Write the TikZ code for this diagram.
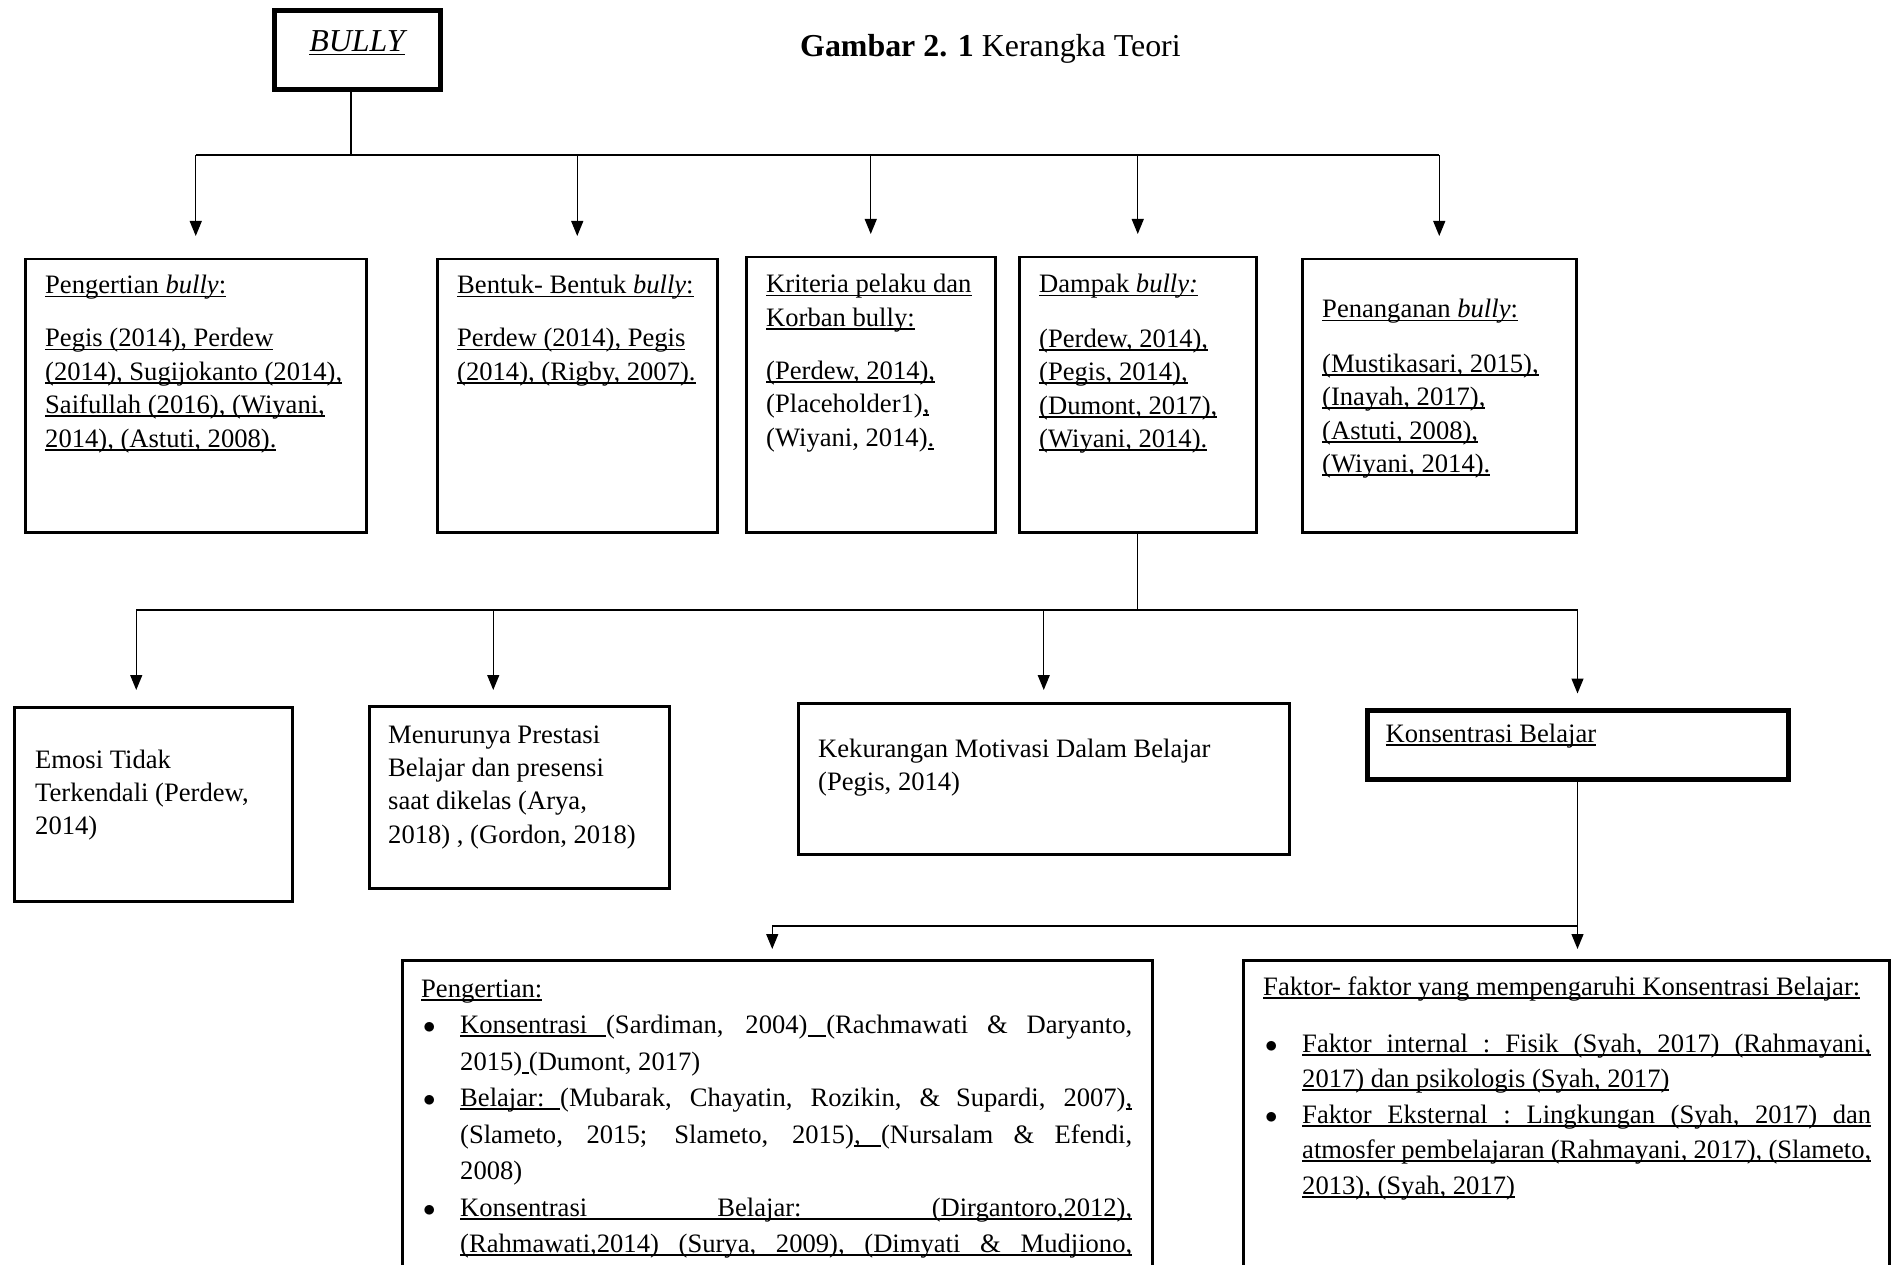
\documentclass[tikz,border=0pt]{standalone}
\usepackage{fontspec}
\setmainfont{Liberation Serif}
\usetikzlibrary{arrows.meta}
\hbadness=10000
\hfuzz=20pt

% garis bawah per kata, spasi ikut bergaris dan bisa melar
\newsavebox{\katabox}
\makeatletter
\newcommand{\kata}[1]{\leavevmode\sbox\katabox{#1}\rlap{\rule[-3.5pt]{\wd\katabox}{1.8pt}}\usebox\katabox}
\newcommand{\spasi}{\leavevmode\leaders\hrule height -1.7pt depth 3.5pt\hskip\fontdimen2\font plus\fontdimen3\font minus\fontdimen4\font}
\newcommand{\gb}[1]{\gb@a#1 \@nil}
\def\gb@a#1 #2\@nil{\kata{#1}\ifx\relax#2\relax\else\spasi\gb@a#2\@nil\fi}
\makeatother
% butir dengan indentasi gantung
\newcommand{\titik}{\par\hangindent=39pt\hangafter=1\noindent\makebox[39pt][l]{\hspace{2pt}$\bullet$}}

\tikzset{
  kotak/.style={draw=black, line width=2.5pt, anchor=north west, inner sep=0pt},
  kotaktebal/.style={kotak, line width=5pt},
  teks/.style={anchor=base west, inner sep=0pt, font=\fontsize{26.6}{33.4}\selectfont},
  garis/.style={line width=1.3pt},
  >={Triangle[length=15pt,width=12pt]}
}

\begin{document}
\begin{tikzpicture}[x=1pt,y=-1pt]
    \useasboundingbox (0,0) rectangle (1893,1265);
    \clip (0,0) rectangle (1893,1265);

    % judul
    \node[teks, font=\fontsize{31.9}{38}\selectfont] (judul) at (800,57) {\textbf{Gambar 2. 1} Kerangka Teori};

    % BULLY
    \node[kotaktebal, minimum width=166pt, minimum height=79pt] (bully) at (271.5,8.5) {};
    \node[teks, anchor=base, font=\fontsize{31.9}{38}\selectfont] (bully-teks) at (357,52) {\gb{\itshape BULLY}};

    % baris pertama
    \node[kotak, minimum width=341pt, minimum height=273pt] (pengertian) at (24,258) {};
    \node[teks] (pengertian-teks) at ([shift={(21,36)}]pengertian.north west) {\parbox[t]{315pt}{\raggedright
        \gb{Pengertian }\gb{\itshape bully}\gb{:}\\[19.6pt]
        \gb{Pegis (2014), Perdew}\\
        \gb{(2014), Sugijokanto (2014),}\\
        \gb{Saifullah (2016), (Wiyani,}\\
        \gb{2014), (Astuti, 2008).}}};

    \node[kotak, minimum width=280pt, minimum height=273pt] (bentuk) at (436,258) {};
    \node[teks] (bentuk-teks) at ([shift={(21,36)}]bentuk.north west) {\parbox[t]{255pt}{\raggedright
        \gb{Bentuk- Bentuk }\gb{\itshape bully}\gb{:}\\[19.6pt]
        \gb{Perdew (2014), Pegis}\\
        \gb{(2014), (Rigby, 2007).}}};

    \node[kotak, minimum width=249pt, minimum height=275pt] (kriteria) at (745,256) {};
    \node[teks] (kriteria-teks) at ([shift={(21,37)}]kriteria.north west) {\parbox[t]{225pt}{\raggedright
        \gb{Kriteria pelaku dan}\\
        \gb{Korban bully:}\\[19.6pt]
        \gb{(Perdew, 2014),}\\
        (Placeholder1)\gb{,}\\
        (Wiyani, 2014)\gb{.}}};

    \node[kotak, minimum width=237pt, minimum height=275pt] (dampak) at (1018,256) {};
    \node[teks] (dampak-teks) at ([shift={(21,37)}]dampak.north west) {\parbox[t]{212pt}{\raggedright
        \gb{Dampak }\gb{\itshape bully:}\\[21pt]
        \gb{(Perdew, 2014),}\\
        \gb{(Pegis, 2014),}\\
        \gb{(Dumont, 2017),}\\
        \gb{(Wiyani, 2014).}}};

    \node[kotak, minimum width=274pt, minimum height=273pt] (penanganan) at (1301,258) {};
    \node[teks] (penanganan-teks) at ([shift={(21,60)}]penanganan.north west) {\parbox[t]{250pt}{\raggedright
        \gb{Penanganan }\gb{\itshape bully}\gb{:}\\[21pt]
        \gb{(Mustikasari, 2015),}\\
        \gb{(Inayah, 2017),}\\
        \gb{(Astuti, 2008),}\\
        \gb{(Wiyani, 2014).}}};

    % garis dari BULLY
    \coordinate (cabang1) at (0,155);
    \draw[garis] ([xshift=-6pt]bully.south) -- ([xshift=-6pt]bully.south |- cabang1);
    \draw[garis] (pengertian.north |- cabang1) -- (penanganan.north |- cabang1);
    \draw[garis,->,shorten >=22pt] (pengertian.north |- cabang1) -- (pengertian.north);
    \draw[garis,->,shorten >=22pt] (bentuk.north |- cabang1) -- (bentuk.north);
    \draw[garis,->,shorten >=22pt] (kriteria.north |- cabang1) -- (kriteria.north);
    \draw[garis,->,shorten >=22pt] (dampak.north |- cabang1) -- (dampak.north);
    \draw[garis,->,shorten >=22pt] (penanganan.north |- cabang1) -- (penanganan.north);

    % baris kedua
    \node[kotak, minimum width=278pt, minimum height=194pt] (emosi) at (13,706) {};
    \node[teks] (emosi-teks) at ([shift={(22,62)}]emosi.north west) {\parbox[t]{250pt}{\raggedright
        Emosi Tidak\\
        Terkendali (Perdew,\\
        2014)}};

    \node[kotak, minimum width=300pt, minimum height=182pt] (prestasi) at (368,705) {};
    \node[teks] (prestasi-teks) at ([shift={(20,38)}]prestasi.north west) {\parbox[t]{275pt}{\raggedright
        Menurunya Prestasi\\
        Belajar dan presensi\\
        saat dikelas (Arya,\\
        2018) , (Gordon, 2018)}};

    \node[kotak, minimum width=491pt, minimum height=151pt] (motivasi) at (797,702) {};
    \node[teks] (motivasi-teks) at ([shift={(21,55)}]motivasi.north west) {\parbox[t]{460pt}{\raggedright
        Kekurangan Motivasi Dalam Belajar\\
        (Pegis, 2014)}};

    \node[kotaktebal, minimum width=421pt, minimum height=69pt] (konsentrasi) at (1364.5,707.5) {};
    \node[teks] (konsentrasi-teks) at ([shift={(21,35)}]konsentrasi.north west) {\gb{Konsentrasi Belajar}};

    % garis dari dampak
    \coordinate (cabang2) at (0,610);
    \draw[garis] (dampak.south) -- (dampak.south |- cabang2);
    \draw[garis] ([xshift=-17pt]emosi.north |- cabang2) -- (konsentrasi.north |- cabang2);
    \draw[garis,->,shorten >=16pt] ([xshift=-17pt]emosi.north |- cabang2) -- ([xshift=-17pt]emosi.north);
    \draw[garis,->,shorten >=15pt] ([xshift=-26pt]prestasi.north |- cabang2) -- ([xshift=-26pt]prestasi.north);
    \draw[garis,->,shorten >=12pt] (motivasi.north |- cabang2) -- (motivasi.north);
    \draw[garis,->,shorten >=14pt] (konsentrasi.north |- cabang2) -- (konsentrasi.north);

    % baris ketiga
    \node[kotak, minimum width=750pt, minimum height=450pt] (definisi) at (401,959) {};
    \node[teks, font=\fontsize{26.6}{36.5}\selectfont] (definisi-teks) at ([shift={(20,38)}]definisi.north west) {\parbox[t]{711pt}{%
        \gb{Pengertian:}
        \titik\gb{Konsentrasi}\spasi(Sardiman, 2004)\spasi(Rachmawati \& Daryanto,\linebreak 2015)\spasi(Dumont, 2017)
        \titik\gb{Belajar:}\spasi(Mubarak, Chayatin, Rozikin, \& Supardi, 2007)\gb{,}\linebreak (Slameto, 2015; Slameto, 2015)\gb{,}\spasi(Nursalam \& Efendi,\linebreak 2008)
        \titik\parfillskip=0pt \gb{Konsentrasi Belajar: (Dirgantoro,2012),}\linebreak \gb{(Rahmawati,2014) (Surya, 2009), (Dimyati \& Mudjiono,}}};

    \node[kotak, minimum width=646pt, minimum height=450pt] (faktor) at (1242,959) {};
    \node[teks, font=\fontsize{26.6}{35.5}\selectfont] (faktor-teks) at ([shift={(21,36)}]faktor.north west) {\parbox[t]{608pt}{%
        \gb{Faktor- faktor yang mempengaruhi Konsentrasi Belajar:}\par\vspace{21.5pt}
        \titik\gb{Faktor internal : Fisik (Syah, 2017) (Rahmayani,}\linebreak \gb{2017) dan psikologis (Syah, 2017)}
        \titik\gb{Faktor Eksternal : Lingkungan (Syah, 2017) dan}\linebreak \gb{atmosfer pembelajaran (Rahmayani, 2017), (Slameto,}\linebreak \gb{2013), (Syah, 2017)}}};

    % garis dari konsentrasi belajar
    \coordinate (cabang3) at (0,926);
    \draw[garis,->,shorten >=10pt] (konsentrasi.south) -- (konsentrasi.south |- faktor.north);
    \draw[garis,->,shorten >=10pt] (konsentrasi.south |- cabang3) -| ([xshift=-5pt]definisi.north);
\end{tikzpicture}
\end{document}
